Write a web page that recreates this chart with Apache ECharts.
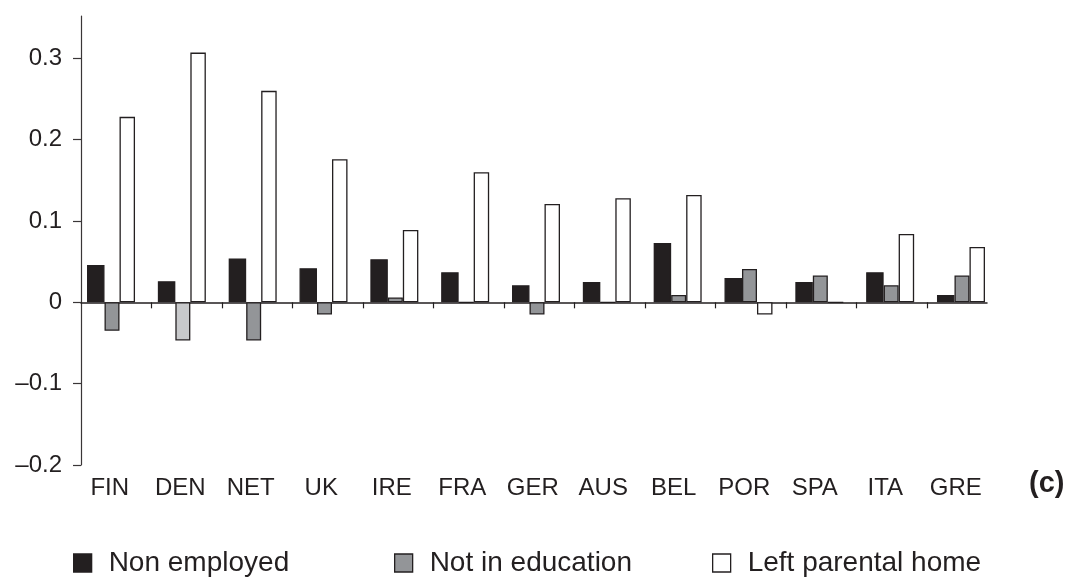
<!DOCTYPE html>
<html>
<head>
<meta charset="utf-8">
<script src="https://cdn.jsdelivr.net/npm/echarts@6/dist/echarts.min.js"></script>
<style>
html,body{margin:0;padding:0;background:#fff;}
#chart{width:1069px;height:577px;}
</style>
</head>
<body>
<div id="chart"></div>
<script>
// ---- data ----
const categories = ['FIN','DEN','NET','UK','IRE','FRA','GER','AUS','BEL','POR','SPA','ITA','GRE'];
const nonEmployed   = [0.046, 0.026, 0.054, 0.042, 0.053, 0.037, 0.021, 0.025, 0.073, 0.030, 0.025, 0.037, 0.009];
const notEducation  = [-0.035, -0.047, -0.047, -0.015, 0.006, 0, -0.015, 0, 0.009, 0.041, 0.033, 0.021, 0.033];
const leftHome      = [0.228, 0.307, 0.260, 0.176, 0.089, 0.160, 0.121, 0.128, 0.132, -0.015, 0, 0.084, 0.068];
const seriesNames   = ['Non employed', 'Not in education', 'Left parental home'];
const yTicks        = [-0.2, -0.1, 0, 0.1, 0.2, 0.3];
const xBoundaryTicks = [1,2,3,4,5,6,7,8,9,10,11,12];
const panelLabel    = '(c)';

// ---- chart ----
const FONT = '"Liberation Sans", Arial, sans-serif';
const INK = '#231f20';
const YMIN = -0.2, YMAX = 0.352;
const TOP = 16, BOTTOM = 112;

const chart = echarts.init(document.getElementById('chart'), null, {renderer: 'canvas'});

function fmtY(v) {
  const r = Math.round(v * 10) / 10;
  if (r === 0) return '0';
  return (r < 0 ? '\u2013' : '') + Math.abs(r).toFixed(1);
}

const notEduData = notEducation.map((v, i) => i === 1 ? {value: v, itemStyle: {color: '#c8c9cb'}} : v);

const barStyle = (color) => ({color: color, borderColor: INK, borderWidth: 1.3});

function legendAt(name, left) {
  return {
    data: [name],
    left: left,
    top: 549,
    padding: 0,
    icon: 'rect',
    itemWidth: 18,
    itemHeight: 18,
    selectedMode: false,
    itemStyle: {borderColor: INK, borderWidth: 1.3},
    textStyle: {fontFamily: FONT, fontSize: 28, color: INK, padding: [0, 0, 0, 12]}
  };
}

const option = {
  animation: false,
  backgroundColor: '#fff',
  grid: [
    {left: 81, right: 82, top: TOP, bottom: BOTTOM, containLabel: false},      // axes
    {left: 75.6, right: 72.6, top: TOP, bottom: BOTTOM, containLabel: false},  // bars
    {left: 74.5, right: 78, top: TOP, bottom: BOTTOM, containLabel: false}     // category labels
  ],
  xAxis: [
    {
      gridIndex: 0, type: 'value', min: 0, max: 12.85,
      axisLine: {show: true, onZero: true, lineStyle: {color: INK, width: 1.5}},
      axisTick: {show: true, length: 6, inside: false, customValues: xBoundaryTicks, lineStyle: {color: INK, width: 1.2}},
      axisLabel: {show: false},
      splitLine: {show: false}
    },
    {
      gridIndex: 1, type: 'category', data: categories,
      axisLine: {show: false}, axisTick: {show: false}, axisLabel: {show: false}, splitLine: {show: false}
    },
    {
      gridIndex: 2, type: 'category', data: categories, position: 'bottom',
      axisLine: {show: false, onZero: false}, axisTick: {show: false},
      axisLabel: {show: true, interval: 0, margin: 11, fontFamily: FONT, fontSize: 24, color: INK},
      splitLine: {show: false}
    }
  ],
  yAxis: [
    {
      gridIndex: 0, type: 'value', min: YMIN, max: YMAX,
      axisLine: {show: true, onZero: false, lineStyle: {color: '#3a3637', width: 1.2}},
      axisTick: {show: true, length: 8, inside: false, customValues: yTicks, lineStyle: {color: '#3a3637', width: 1.2}},
      axisLabel: {show: true, customValues: yTicks, margin: 19, fontFamily: FONT, fontSize: 24, color: INK, formatter: fmtY},
      splitLine: {show: false}
    },
    {
      gridIndex: 1, type: 'value', min: YMIN, max: YMAX,
      axisLine: {show: false}, axisTick: {show: false}, axisLabel: {show: false}, splitLine: {show: false}
    },
    {
      gridIndex: 2, type: 'value', min: YMIN, max: YMAX,
      axisLine: {show: false}, axisTick: {show: false}, axisLabel: {show: false}, splitLine: {show: false}
    }
  ],
  legend: [
    legendAt(seriesNames[0], 73),
    legendAt(seriesNames[1], 394),
    legendAt(seriesNames[2], 712)
  ],
  graphic: [
    {type: 'text', left: 1029, top: 469, style: {text: panelLabel, font: 'bold 29px ' + FONT, fill: INK}}
  ],
  series: [
    {
      name: seriesNames[0], type: 'bar', xAxisIndex: 1, yAxisIndex: 1,
      data: nonEmployed, barWidth: 17.5, barGap: '0%',
      itemStyle: barStyle(INK)
    },
    {
      name: seriesNames[1], type: 'bar', xAxisIndex: 1, yAxisIndex: 1,
      data: notEduData, barWidth: 15, barGap: '0%',
      itemStyle: barStyle('#939598')
    },
    {
      name: seriesNames[2], type: 'bar', xAxisIndex: 1, yAxisIndex: 1,
      data: leftHome, barWidth: 15.5, barGap: '0%',
      itemStyle: barStyle('#ffffff')
    }
  ]
};

chart.setOption(option);
</script>
</body>
</html>
